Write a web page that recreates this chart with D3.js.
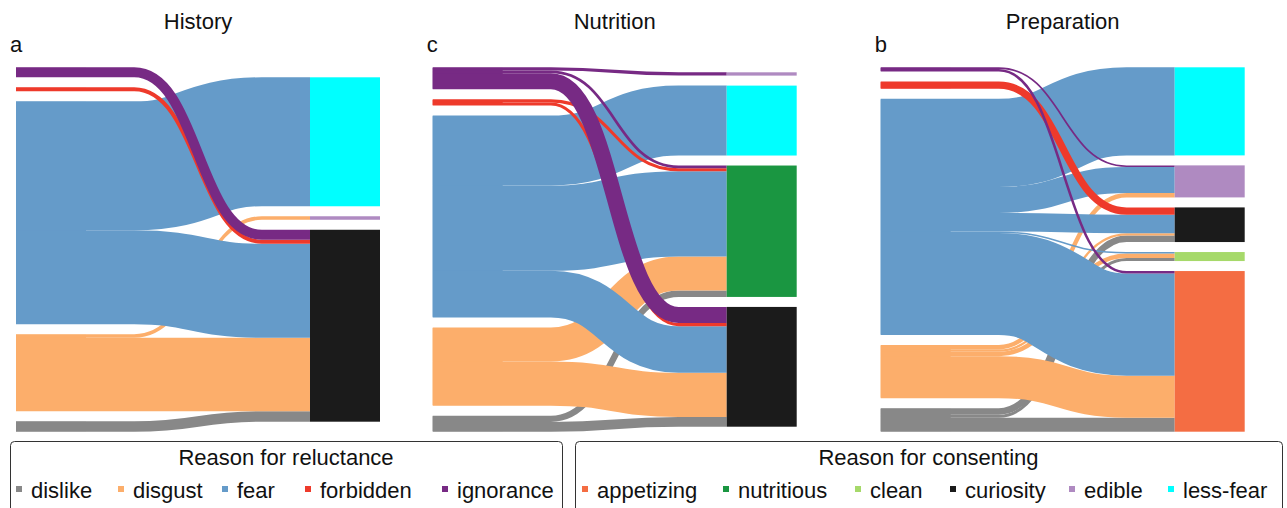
<!DOCTYPE html>
<html><head><meta charset="utf-8">
<script src="https://cdn.jsdelivr.net/npm/d3@7"></script>
<style>
body{margin:0;background:#fff}
svg{display:block}
text{font-family:"Liberation Sans",Arial,Helvetica,sans-serif;fill:#111}
</style>
</head><body>
<svg id="chart" width="1287" height="508"></svg>
<script>
// ---------- data ----------
const reluctance = ["ignorance","forbidden","fear","disgust","dislike"];           // left column, top to bottom
const reluctanceLegend = ["dislike","disgust","fear","forbidden","ignorance"];
const consentLegend = ["appetizing","nutritious","clean","curiosity","edible","less-fear"];
const panelTitles = ["History","Nutrition","Preparation"];
const panelLetters = ["a","c","b"];

const historyTargets = ["less-fear","edible","curiosity"];
const historyLinks = [
  ["ignorance","curiosity",10],
  ["forbidden","curiosity",4],
  ["fear","less-fear",129],
  ["fear","curiosity",94],
  ["disgust","edible",3.5],
  ["disgust","curiosity",73.5],
  ["dislike","curiosity",10.5]
];

const nutritionTargets = ["edible","less-fear","nutritious","curiosity"];
const nutritionLinks = [
  ["ignorance","edible",3.3],
  ["ignorance","nutritious",2.7],
  ["ignorance","curiosity",16],
  ["forbidden","nutritious",3],
  ["forbidden","curiosity",3.2],
  ["fear","less-fear",69.7],
  ["fear","nutritious",85],
  ["fear","curiosity",46.5],
  ["disgust","nutritious",34],
  ["disgust","curiosity",44],
  ["dislike","nutritious",6.3],
  ["dislike","curiosity",9.7]
];

const preparationTargets = ["less-fear","edible","curiosity","clean","appetizing"];
const preparationLinks = [
  ["ignorance","edible",1.7],
  ["ignorance","appetizing",2.5],
  ["forbidden","curiosity",7.3],
  ["fear","less-fear",88],
  ["fear","edible",26],
  ["fear","curiosity",18.5],
  ["fear","clean",1.5],
  ["fear","appetizing",102],
  ["disgust","edible",4.3],
  ["disgust","curiosity",2.3],
  ["disgust","clean",4.5],
  ["disgust","appetizing",42],
  ["dislike","curiosity",6.5],
  ["dislike","clean",3],
  ["dislike","appetizing",14]
];

const colorNames = ["dislike","disgust","fear","forbidden","ignorance","appetizing","nutritious","clean","curiosity","edible","less-fear"];
const colorValues = ["#888888","#FCAE6B","#659BC9","#EE3A2B","#772A84","#F46D43","#1A9641","#A6D96A","#1B1B1B","#AF8AC1","#00FFFF"];

// ---------- drawing ----------
const color = d3.scaleOrdinal().domain(colorNames).range(colorValues);
const svg = d3.select("#chart");
const panels = [
  {targets: historyTargets, links: historyLinks},
  {targets: nutritionTargets, links: nutritionLinks},
  {targets: preparationTargets, links: preparationLinks}
];
const panelX = [16, 432.7, 880.7];
const panelW = 364, nodeW = 70, pad = 10, yTop = 67.3, yBottom = 431.7;
const curveHalf = 0.285;   // half-width of the curved part, as share of the gap between columns

panels.forEach((p, pi) => {
  const g = svg.append("g");
  const x0 = panelX[pi];
  const xs = d3.scalePoint().domain(["L","R"]).range([x0, x0 + panelW - nodeW]);
  const H = yBottom - yTop;
  const leftVals = reluctance.map(r => d3.sum(p.links.filter(l => l[0] === r), l => l[2]));
  const rightVals = p.targets.map(t => d3.sum(p.links.filter(l => l[1] === t), l => l[2]));
  const ky = Math.min(
    (H - pad * (reluctance.length - 1)) / d3.sum(leftVals),
    (H - pad * (p.targets.length - 1)) / d3.sum(rightVals));
  const k = d3.scaleLinear().domain([0, 1]).range([0, ky]);

  function column(names, vals, side) {
    const total = k(d3.sum(vals)) + pad * (names.length - 1);
    let y = yTop + (H - total) / 2;
    const nodes = {};
    names.forEach((n, i) => {
      nodes[n] = {name: n, x: xs(side), y: y, dy: k(vals[i])};
      y += k(vals[i]) + pad;
    });
    return nodes;
  }
  const L = column(reluctance, leftVals, "L");
  const R = column(p.targets, rightVals, "R");

  const links = p.links.map(l => ({s: l[0], t: l[1], dy: k(l[2])}));
  reluctance.forEach(r => {
    let off = 0;
    links.filter(l => l.s === r)
      .sort((a, b) => R[a.t].y - R[b.t].y)
      .forEach(l => { l.sy = off; off += l.dy; });
  });
  p.targets.forEach(t => {
    let off = 0;
    links.filter(l => l.t === t)
      .sort((a, b) => L[a.s].y - L[b.s].y)
      .forEach(l => { l.ty = off; off += l.dy; });
  });

  const order = reluctanceLegend;
  links.sort((a, b) => order.indexOf(a.s) - order.indexOf(b.s));

  // left node fills under the links (slightly inset, hides seams between links)
  g.selectAll("rect.ln").data(Object.values(L)).join("rect")
    .attr("x", d => d.x).attr("y", d => d.y + (d.dy > 2 ? 0.6 : 0))
    .attr("width", nodeW).attr("height", d => d.dy > 2 ? d.dy - 1.2 : d.dy)
    .attr("fill", d => color(d.name));

  g.selectAll("path.link").data(links).join("path")
    .attr("class", "link")
    .attr("fill", "none")
    .attr("stroke", d => color(d.s))
    .attr("stroke-width", d => Math.max(1, d.dy))
    .attr("d", d => {
      const xa = L[d.s].x, xe = L[d.s].x + nodeW, xb = R[d.t].x;
      const xi = d3.interpolateNumber(xe, xb);
      const xm = xi(0.5), xc0 = xi(0.5 - curveHalf), xc1 = xi(0.5 + curveHalf);
      const ya = L[d.s].y + d.sy + d.dy / 2, yb = R[d.t].y + d.ty + d.dy / 2;
      return `M${xa},${ya}H${xc0}C${xm},${ya} ${xm},${yb} ${xc1},${yb}H${xb}`;
    });

  g.selectAll("rect.rn").data(Object.values(R)).join("rect")
    .attr("x", d => d.x).attr("y", d => d.y)
    .attr("width", nodeW).attr("height", d => Math.max(0.5, d.dy))
    .attr("fill", d => color(d.name));

  svg.append("text").attr("x", x0 + panelW / 2).attr("y", 29)
    .attr("text-anchor", "middle").attr("font-size", 22).text(panelTitles[pi]);
  svg.append("text").attr("x", x0 - 6).attr("y", 52)
    .attr("font-size", 22).text(panelLetters[pi]);
});

// ---------- legends ----------
function legend(x, w, title, items, itemX) {
  const g = svg.append("g");
  g.append("rect").attr("x", x + 0.5).attr("y", 441.5).attr("width", w).attr("height", 80)
    .attr("rx", 4).attr("fill", "none").attr("stroke", "#333").attr("stroke-width", 1);
  g.append("text").attr("x", x + w / 2).attr("y", 465).attr("text-anchor", "middle")
    .attr("font-size", 22).text(title);
  items.forEach((it, i) => {
    g.append("rect").attr("x", itemX[i]).attr("y", 486).attr("width", 6).attr("height", 6)
      .attr("fill", color(it));
    g.append("text").attr("x", itemX[i] + 15).attr("y", 497.5).attr("font-size", 22).text(it);
  });
}
legend(10, 552, "Reason for reluctance", reluctanceLegend, [16, 118, 222, 305, 442]);
legend(575, 707, "Reason for consenting", consentLegend, [582, 723, 855, 950, 1069, 1168]);
</script>
</body></html>
